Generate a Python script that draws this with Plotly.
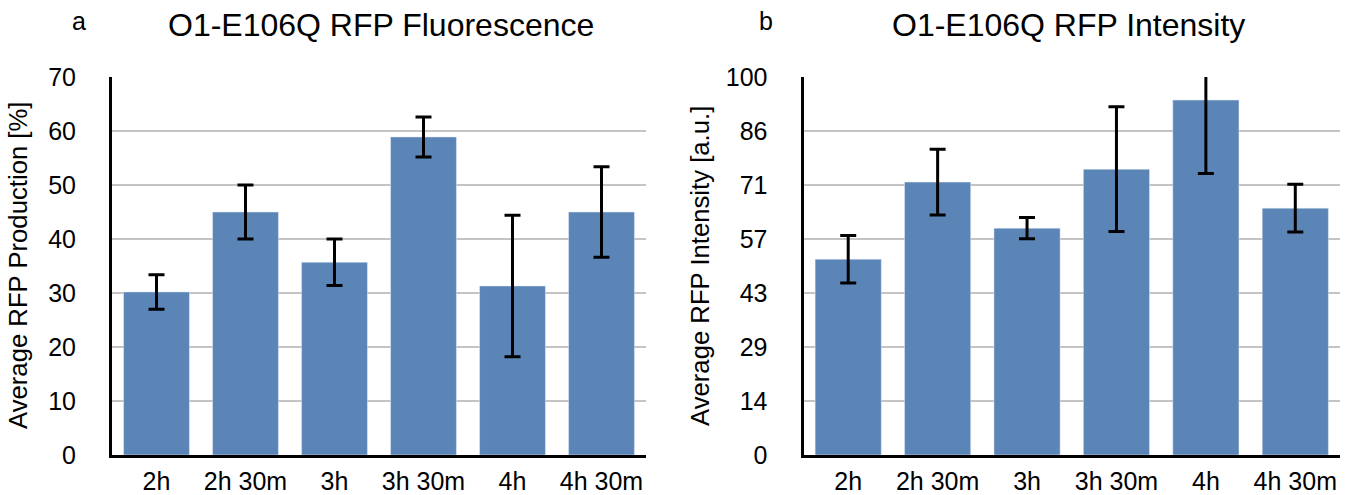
import plotly.graph_objects as go

# Sampling times shared by both panels
times = ["2h", "2h 30m", "3h", "3h 30m", "4h", "4h 30m"]

# Panel a: RFP fluorescence (percent production) with error bars
fluor_mean = [30.2, 45.0, 35.7, 58.9, 31.3, 45.0]
fluor_err = [3.2, 5.0, 4.3, 3.7, 13.1, 8.4]

# Panel b: RFP intensity (arbitrary units) with error bars
inten_mean = [51.8, 72.2, 60.0, 75.6, 93.9, 65.3]
inten_err = [6.3, 8.7, 2.8, 16.5, 19.4, 6.3]

# Tick labels
fluor_ticks = ["0", "10", "20", "30", "40", "50", "60", "70"]
inten_ticks = ["0", "14", "29", "43", "57", "71", "86", "100"]

BAR = "#5b84b7"
FONT = "Liberation Sans, Arial, Helvetica, sans-serif"
W, H = 1346, 495
ML, MR, MT, MB = 112, 6, 77, 40
PW = W - ML - MR


def px_x(p):
    return (p - ML) / PW


fig = go.Figure()
fig.add_trace(go.Bar(
    x=times, y=fluor_mean, marker_color=BAR, xaxis="x", yaxis="y",
    error_y=dict(type="data", array=fluor_err, color="black", thickness=3, width=8),
))
fig.add_trace(go.Bar(
    x=times, y=inten_mean, marker_color=BAR, xaxis="x2", yaxis="y2",
    error_y=dict(type="data", array=inten_err, color="black", thickness=3, width=8),
))

xcommon = dict(
    type="category", range=[-0.5, 5.5], showline=True, linecolor="black", linewidth=3,
    showgrid=False, ticks="", tickfont=dict(size=25, color="black", family=FONT),
    ticklabelstandoff=2, zeroline=False, automargin=False,
)
ycommon = dict(
    showline=True, linecolor="black", linewidth=3, showgrid=True, gridcolor="#c4c4c4",
    gridwidth=1.5, ticks="", tickfont=dict(size=25, color="black", family=FONT),
    ticklabelstandoff=28, zeroline=False, automargin=False,
)

fluor_vals = [int(t) for t in fluor_ticks]
inten_vals = [i * 100 / 7 for i in range(len(inten_ticks))]

fig.update_layout(
    width=W, height=H,
    margin=dict(l=ML, r=MR, t=MT, b=MB, autoexpand=False),
    plot_bgcolor="white", paper_bgcolor="white",
    showlegend=False, bargap=0.26,
    font=dict(family=FONT, color="black"),
    xaxis=dict(domain=[0, px_x(646)], anchor="y", **xcommon),
    xaxis2=dict(domain=[px_x(803.5), 1.0], anchor="y2", **xcommon),
    yaxis=dict(domain=[0, 1], anchor="x", range=[0, 70], tickvals=fluor_vals,
               ticktext=fluor_ticks, **ycommon),
    yaxis2=dict(domain=[0, 1], anchor="x2", range=[0, 100], tickvals=inten_vals,
                ticktext=inten_ticks, **ycommon),
)


def py(p):
    return (H - MB - p) / (H - MT - MB)


annotations = [
    dict(text="O1-E106Q RFP Fluorescence", x=px_x(381), y=py(25), size=32),
    dict(text="O1-E106Q RFP Intensity", x=px_x(1068), y=py(25), size=32),
    dict(text="a", x=px_x(79), y=py(21), size=25),
    dict(text="b", x=px_x(766), y=py(21), size=25),
    dict(text="Average RFP Production [%]", x=px_x(18), y=py(266), textangle=-90, size=25.7),
    dict(text="Average RFP Intensity [a.u.]", x=px_x(700), y=py(266), textangle=-90, size=25.7),
]
for a in annotations:
    size = a.pop("size")
    fig.add_annotation(xref="paper", yref="paper", showarrow=False,
                       xanchor="center", yanchor="middle",
                       font=dict(family=FONT, color="black", size=size), **a)

fig.write_html("out.html")
